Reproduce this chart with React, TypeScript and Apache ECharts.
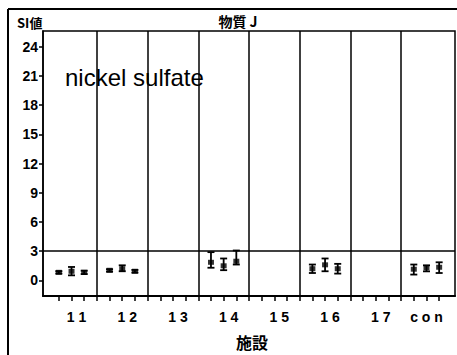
import React, { useEffect, useRef } from "react";
import * as echarts from "echarts";

// Facilities (x categories)
const categories = ["11", "12", "13", "14", "15", "16", "17", "con"];
// Three measurements per facility (null = no data)
const meanValues: (number[] | null)[] = [
  [0.83, 0.94, 0.83],
  [1.04, 1.2, 0.94],
  null,
  [1.86, 1.5, 1.97],
  null,
  [1.2, 1.6, 1.2],
  null,
  [1.15, 1.3, 1.35],
];
const lowValues: (number[] | null)[] = [
  [0.7, 0.52, 0.65],
  [0.9, 0.94, 0.8],
  null,
  [1.3, 1.05, 1.63],
  null,
  [0.76, 0.94, 0.7],
  null,
  [0.6, 0.93, 0.76],
];
const highValues: (number[] | null)[] = [
  [0.95, 1.38, 1.0],
  [1.15, 1.55, 1.08],
  null,
  [2.9, 2.25, 3.07],
  null,
  [1.63, 2.25, 1.7],
  null,
  [1.63, 1.55, 1.86],
];
const yTickValues = [0, 3, 6, 9, 12, 15, 18, 21, 24];
const referenceLine = 3;

const FONT = "'Liberation Sans', Arial, sans-serif";
const CJK = "'Noto Sans CJK JP', 'Liberation Sans', sans-serif";

export default function App() {
  const ref = useRef<HTMLDivElement>(null);
  useEffect(() => {
    document.body.style.margin = "0";
    if (!ref.current) return;
    const chart = echarts.init(ref.current, undefined, { renderer: "svg" });

    const points: number[][] = [];
    const bars: number[][] = [];
    categories.forEach((_, gi) => {
      const m = meanValues[gi];
      const lo = lowValues[gi];
      const hi = highValues[gi];
      if (!m || !lo || !hi) return;
      m.forEach((v, j) => {
        const x = gi * 4 + j + 1;
        points.push([x, v]);
        bars.push([x, lo[j], hi[j]]);
      });
    });

    const tickX: number[] = [];
    for (let i = 1; i < categories.length * 4; i++) tickX.push(i);
    const labelX = categories.map((_, i) => i * 4 + 2);
    const separators = categories.slice(1).map((_, i) => ({ xAxis: (i + 1) * 4 }));

    chart.setOption({
      animation: false,
      grid: {
        left: 43,
        right: 2,
        top: 31,
        bottom: 59,
        show: true,
        borderColor: "#000",
        borderWidth: 1.5,
      },
      xAxis: {
        type: "value",
        min: -0.25,
        max: categories.length * 4 + 0.25,
        splitLine: { show: false },
        axisLine: { show: true, onZero: false, lineStyle: { color: "#000", width: 2 } },
        axisTick: {
          show: true,
          customValues: tickX,
          length: 5,
          lineStyle: { color: "#000", width: 1.5 },
        },
        axisLabel: {
          customValues: labelX,
          margin: 14,
          formatter: (v: number) => {
            const c = categories[Math.round((v - 2) / 4)] ?? "";
            const spaced = c.split("").join(" ");
            return /^\d+$/.test(c) ? `{n|${spaced}}` : `{c|${spaced}}`;
          },
          rich: {
            n: { fontFamily: FONT, fontWeight: "bold", fontSize: 14, color: "#000", padding: [0, 0, 0, 10] },
            c: { fontFamily: FONT, fontWeight: "bold", fontSize: 14, color: "#000" },
          },
        },
        name: "施設",
        nameLocation: "middle",
        nameGap: 38,
        nameTextStyle: { fontFamily: CJK, fontWeight: "bold", fontSize: 16, color: "#000", padding: [0, 0, 0, 6] },
      },
      yAxis: {
        type: "value",
        min: -1.6,
        max: 25.6,
        splitLine: { show: false },
        axisLine: { show: true, onZero: false, lineStyle: { color: "#000", width: 1.5 } },
        axisTick: {
          show: true,
          customValues: yTickValues,
          length: 4,
          lineStyle: { color: "#000", width: 1.5 },
        },
        axisLabel: {
          customValues: yTickValues,
          margin: 5,
          fontFamily: FONT,
          fontWeight: "bold",
          fontSize: 14,
          color: "#000",
        },
      },
      graphic: [
        { type: "line", shape: { x1: 8, y1: 9, x2: 457, y2: 9 }, style: { stroke: "#000", lineWidth: 2 } },
        { type: "line", shape: { x1: 8, y1: 9, x2: 8, y2: 355 }, style: { stroke: "#000", lineWidth: 2 } },
        {
          type: "text",
          x: 17,
          y: 22,
          style: { text: "SI値", font: `bold 13px ${CJK}`, fill: "#000", verticalAlign: "middle" },
        },
        {
          type: "text",
          x: 238,
          y: 21,
          style: { text: "物質 J", font: `bold 14px ${CJK}`, fill: "#000", align: "center", verticalAlign: "middle" },
        },
        {
          type: "text",
          x: 65,
          y: 77,
          style: { text: "nickel sulfate", font: `24px ${FONT}`, fill: "#000", verticalAlign: "middle" },
        },
      ],
      series: [
        {
          type: "custom",
          data: bars,
          renderItem: (params: any, api: any) => {
            const x = api.value(0);
            const pLo = api.coord([x, api.value(1)]);
            const pHi = api.coord([x, api.value(2)]);
            const hw = 3.5;
            const st = { stroke: "#000", lineWidth: 1.8 };
            return {
              type: "group",
              children: [
                { type: "line", shape: { x1: pLo[0], y1: pLo[1], x2: pHi[0], y2: pHi[1] }, style: st },
                { type: "line", shape: { x1: pLo[0] - hw, y1: pLo[1], x2: pLo[0] + hw, y2: pLo[1] }, style: st },
                { type: "line", shape: { x1: pHi[0] - hw, y1: pHi[1], x2: pHi[0] + hw, y2: pHi[1] }, style: st },
              ],
            };
          },
          z: 3,
        },
        {
          type: "scatter",
          data: points,
          symbol: "rect",
          symbolSize: [6, 5],
          itemStyle: { color: "#000" },
          z: 4,
          markLine: {
            silent: true,
            symbol: ["none", "none"],
            label: { show: false },
            lineStyle: { color: "#000", width: 1.5, type: "solid" },
            data: [...separators, { yAxis: referenceLine }],
          },
        },
      ],
    });
    return () => chart.dispose();
  }, []);
  return <div ref={ref} style={{ width: 457, height: 355 }} />;
}
